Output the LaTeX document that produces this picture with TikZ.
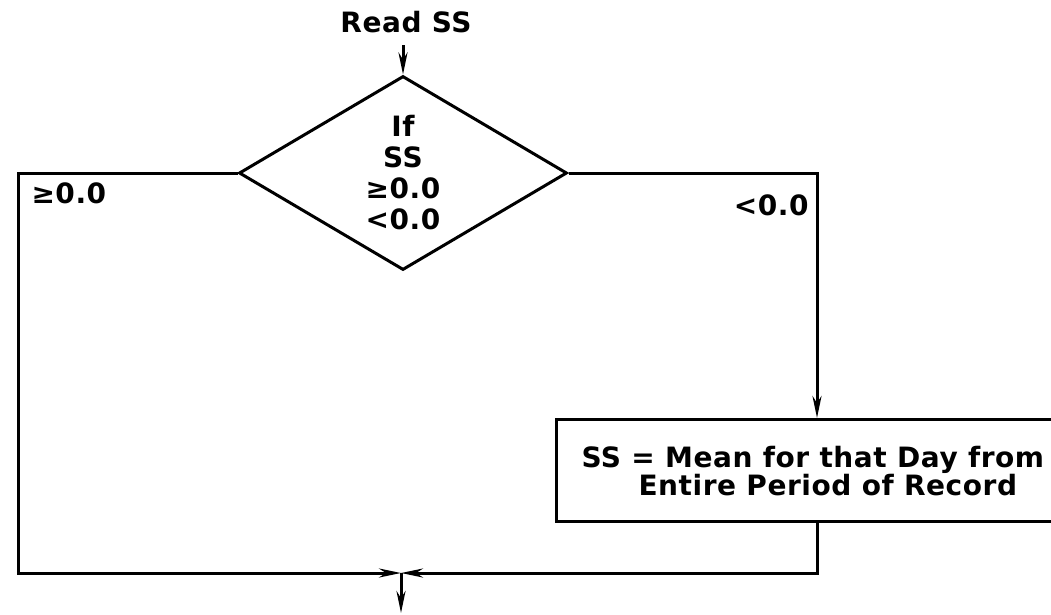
\documentclass[tikz,border=0pt]{standalone}
\usepackage{fontspec}
\setmainfont{DejaVu Sans}[LetterSpace=2]
\usetikzlibrary{arrows.meta,shapes.geometric}
\begin{document}
\begin{tikzpicture}[x=1pt,y=-1pt,line width=3pt,
  lbl/.style={font=\fontsize{28}{31}\selectfont\bfseries,inner sep=0pt},
  arr/.style={-{Stealth[length=22pt,width=9pt]}},
  decision/.style={diamond,draw,aspect=1.7,inner sep=0pt,minimum width=328pt,minimum height=194pt,align=center,font=\fontsize{28}{31}\selectfont\bfseries},
  procbox/.style={rectangle,draw,minimum width=525pt,minimum height=102pt,anchor=north west}]
\useasboundingbox (0,0) rectangle (1051,614);
\clip (0,0) rectangle (1051,614);
\fill[white] (0,0) rectangle (1051,614);
% nodes
\node[lbl] (read) at (406,22) {Read SS};
\node[decision] (dec) at (403,173) {If\\SS\\≥0.0\\<0.0};
\node[procbox] (box) at (555,418) {};
\node[lbl,anchor=base west] (t1) at (580,467) {SS = Mean for that Day from};
\node[lbl,anchor=base west] (t2) at (637,495) {Entire Period of Record};
\node[lbl,anchor=north west] (ge) at (30,181) {≥0.0};
\node[lbl,anchor=north east] (lt) at (810,193) {<0.0};
% coordinates
\coordinate (lc) at (18,173);
\coordinate (rc) at (817,173);
\coordinate (lb) at (18,573);
\coordinate (j) at (401,573);
\coordinate (out) at (401,613);
\coordinate (rs) at (403,45);
% connectors
\draw[arr] (rs) -- (dec.north);
\draw[arr] (dec.west) -- (lc) -- (lb) -- (j);
\draw[arr] (dec.east) -- (rc) -- (rc |- box.north);
\draw[arr] (rc |- box.south) -- (rc |- j) -- (j);
\draw[arr] (j) -- (out);
\end{tikzpicture}
\end{document}
